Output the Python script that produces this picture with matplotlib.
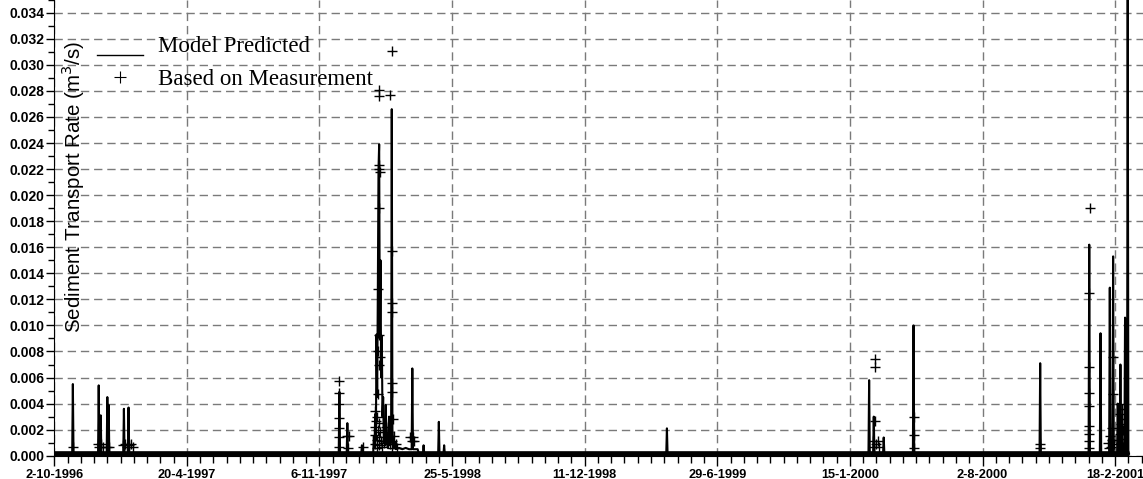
import numpy as np
import pandas as pd
import matplotlib
matplotlib.use('Agg')
import matplotlib.pyplot as plt
from matplotlib.lines import Line2D
from matplotlib.legend_handler import HandlerLine2D
from matplotlib.ticker import FixedLocator, MultipleLocator, FormatStrFormatter
import matplotlib.dates as mdates

""" data read off the chart (days counted from 2-10-1996) """
start = pd.Timestamp('1996-10-02')
B = 0.00015  # resting level of the model line

model_day = [0,
    27, 28, 29,
    66, 67, 68, 70, 71,
    79, 80, 81, 82, 83,
    104, 105, 106, 111, 112, 113,
    429, 430, 431, 441, 442, 443, 463, 464, 465,
    481, 482, 483, 484, 485, 486, 487, 488, 489, 490, 491, 492, 493, 494, 495,
    496, 497, 498, 499, 500, 501, 502, 503, 505, 506, 508, 509, 510, 511, 512,
    514, 515, 520, 525, 530, 535, 539, 540, 541, 548, 550,
    556, 557, 558, 579, 580, 581, 587, 588, 589,
    923, 924, 925,
    1228, 1229, 1230, 1235, 1236, 1237, 1250, 1251, 1252,
    1295, 1296, 1297,
    1486, 1487, 1488,
    1560, 1561, 1562, 1577, 1578, 1579,
    1591, 1592, 1593, 1596, 1597, 1598,
    1603, 1604, 1605, 1607, 1608, 1609, 1610, 1611, 1614, 1615, 1616,
    1618, 1619, 1620, 1621]
model_rate = [B,
    B, 0.0055, B,
    B, 0.0054, B, 0.0031, B,
    B, 0.0045, B, 0.0039, B,
    B, 0.0036, B, B, 0.0037, B,
    B, 0.0049, B, B, 0.0025, B, B, 0.0008, B,
    B, 0.0015, 0.0006, 0.0032, 0.0012, 0.0093, 0.0045, 0.0128, 0.0220, 0.0239, 0.0090, 0.0150, 0.0060, 0.0092, 0.0030,
    0.0045, 0.0010, 0.0025, 0.0008, 0.0039, 0.0010, 0.0015, 0.0006, 0.0030, 0.0008, 0.0010, 0.0266, 0.0020, 0.0012, 0.0006,
    0.0010, 0.0005, 0.0006, 0.0005, 0.0006, 0.0005, 0.0005, 0.0067, 0.0005, 0.0005, B,
    B, 0.0008, B, B, 0.0026, B, B, 0.0008, B,
    B, 0.0021, B,
    B, 0.0058, B, B, 0.0030, B, B, 0.0014, B,
    B, 0.0100, B,
    B, 0.0071, B,
    B, 0.0162, B, B, 0.0094, B,
    B, 0.0129, B, B, 0.0153, B,
    B, 0.0040, B, B, 0.0070, B, 0.0030, B, B, 0.0106, B,
    B, 0.0360, B, B]

band_day = [0, 1621]
band_rate = [B, B]

meas_day = [28,
    66, 68, 71, 74, 80, 83,
    104, 107, 110, 113, 116, 118,
    430, 430, 430, 430, 430, 430, 430,
    442, 445, 443, 465,
    489, 489, 506, 509,
    489, 490, 491, 489, 488,
    490, 488, 491, 490, 488,
    484, 487, 485, 490, 483, 488, 492, 484, 489, 486, 493, 483, 490, 495, 487,
    509, 509, 509, 509, 509, 511, 510, 509,
    500, 503, 505, 507, 513, 515, 517, 498,
    537, 541, 539, 543,
    1238, 1238, 1238, 1235, 1239, 1242, 1237, 1244,
    1296, 1296, 1296,
    1487, 1487,
    1562, 1561, 1561, 1561, 1561, 1561, 1561, 1561, 1561,
    1597, 1597, 1595, 1593, 1596, 1590, 1599, 1594, 1591,
    1608, 1610, 1608, 1611, 1609, 1612, 1608, 1611, 1609, 1612]
meas_rate = [0.0007,
    0.0009, 0.0007, 0.0009, 0.0007, 0.0007, 0.0007,
    0.0008, 0.0009, 0.0007, 0.0008, 0.0009, 0.0007,
    0.0057, 0.0048, 0.0040, 0.0029, 0.0021, 0.0014, 0.0007,
    0.0015, 0.0015, 0.0006, 0.0007,
    0.0281, 0.0276, 0.0277, 0.0311,
    0.0223, 0.0220, 0.0218, 0.0190, 0.0128,
    0.0093, 0.0080, 0.0076, 0.0070, 0.0047,
    0.0034, 0.0030, 0.0027, 0.0025, 0.0022, 0.0020, 0.0018, 0.0016, 0.0014, 0.0012, 0.0011, 0.0009, 0.0008, 0.0007, 0.0006,
    0.0157, 0.0117, 0.0110, 0.0056, 0.0049, 0.0028, 0.0011, 0.0006,
    0.0022, 0.0018, 0.0013, 0.0009, 0.0015, 0.0009, 0.0006, 0.0010,
    0.0014, 0.0014, 0.0011, 0.0011,
    0.0074, 0.0068, 0.0027, 0.0011, 0.0009, 0.0011, 0.0007, 0.0007,
    0.0030, 0.0016, 0.0006,
    0.0009, 0.0006,
    0.0190, 0.0125, 0.0068, 0.0048, 0.0038, 0.0023, 0.0017, 0.0011, 0.0006,
    0.0076, 0.0047, 0.0021, 0.0015, 0.0012, 0.0010, 0.0009, 0.0007, 0.0006,
    0.0040, 0.0036, 0.0032, 0.0028, 0.0024, 0.0020, 0.0017, 0.0013, 0.0010, 0.0007]

tick_labels = ['2-10-1996', '20-4-1997', '6-11-1997', '25-5-1998', '11-12-1998',
               '29-6-1999', '15-1-2000', '2-8-2000', '18-2-2001']

def to_date(days):
    return start + pd.to_timedelta(np.asarray(days), unit='D')

# legend line sits a bit below its label, like the original
class LowLine(HandlerLine2D):
    def create_artists(self, legend, orig_handle, xdescent, ydescent,
                       width, height, fontsize, trans):
        return super().create_artists(legend, orig_handle, xdescent, ydescent + 15,
                                      width, height, fontsize, trans)

""" plot """
fig = plt.figure(figsize=(11.43, 4.79), dpi=100)
ax = fig.add_axes([0.0475, 0.0486, 0.9542, 0.952])

ax.plot(to_date(band_day), band_rate, color='black', lw=4.8, solid_capstyle='butt', zorder=3)
ax.plot(to_date(model_day), model_rate, color='black', lw=1.5, zorder=3)
ax.plot(to_date(meas_day), meas_rate, '+', color='black', ms=6.5, mew=1.0, zorder=4)

ax.set_xlim(start, start + pd.Timedelta(days=1645))
ax.set_ylim(0, 0.035)

major = mdates.date2num(pd.date_range(start, periods=len(tick_labels), freq='200D'))
minor = mdates.date2num(pd.date_range(start, periods=83, freq='20D'))
ax.xaxis.set_major_locator(FixedLocator(major))
ax.xaxis.set_minor_locator(FixedLocator(minor))
ax.set_xticklabels(tick_labels, fontfamily='Liberation Sans', fontweight='bold', fontsize=9.2)

ax.yaxis.set_major_locator(MultipleLocator(0.002))
ax.yaxis.set_minor_locator(MultipleLocator(0.001))
ax.yaxis.set_major_formatter(FormatStrFormatter('%.3f'))
for lab in ax.get_yticklabels():
    lab.set_fontfamily('Liberation Sans')
    lab.set_fontweight('bold')
    lab.set_fontsize(10)

ax.tick_params(axis='x', which='major', length=7, width=1, pad=2.5)
ax.tick_params(axis='x', which='minor', length=5, width=1)
ax.tick_params(axis='y', which='major', length=6, width=1, pad=1)
ax.tick_params(axis='y', which='minor', length=4, width=1)

ax.grid(True, which='major', color='#7a7a7a', linestyle=(0, (6, 3.5)), linewidth=1.0)
ax.set_axisbelow(True)
for s in ['top', 'right']:
    ax.spines[s].set_visible(False)

ax.set_ylabel('Sediment Transport Rate (m$^3$/s)', fontfamily='Liberation Sans', fontsize=14.8)
ax.yaxis.set_label_coords(0.030, 0.590)

line_handle = Line2D([], [], color='black', lw=1.0)
plus_handle = Line2D([], [], color='black', ls='none', marker='+', ms=9, mew=0.8)
ax.legend([line_handle, plus_handle], ['Model Predicted', 'Based on Measurement'],
          loc='upper left', bbox_to_anchor=(0.039, 0.92), frameon=False,
          borderpad=0, borderaxespad=0, handlelength=2.0, handletextpad=0.68,
          labelspacing=0.52, handler_map={line_handle: LowLine()},
          prop={'family': 'Liberation Serif', 'size': 16.5})

fig.savefig('out.png', dpi=100)
